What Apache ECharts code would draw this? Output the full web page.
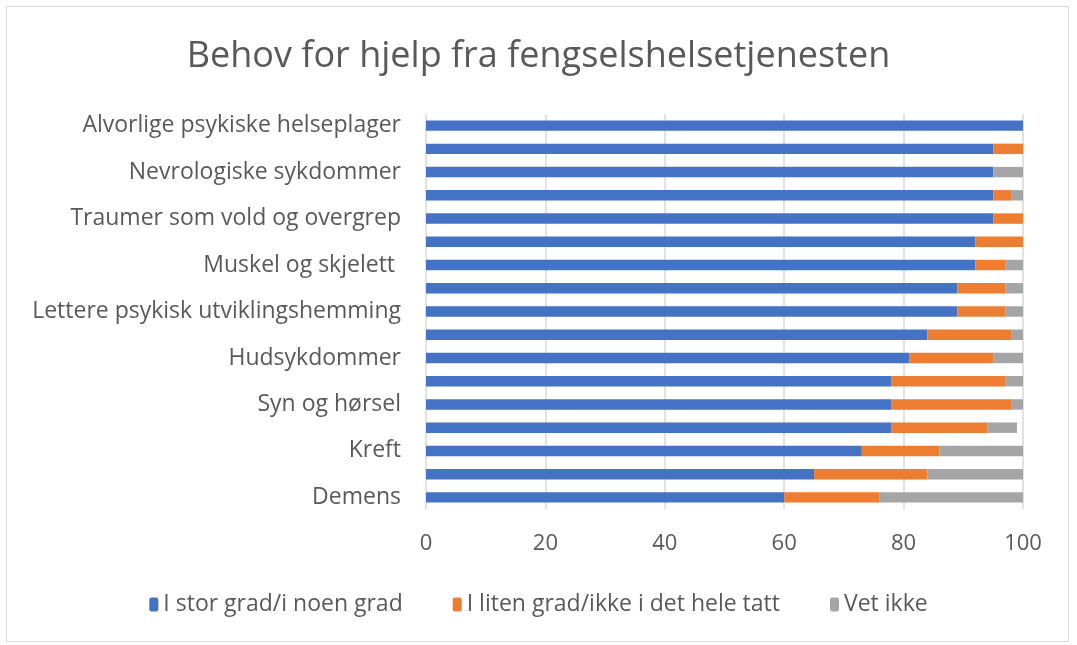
<!DOCTYPE html>
<html>
<head>
<meta charset="utf-8">
<script src="https://cdn.jsdelivr.net/npm/echarts@6/dist/echarts.min.js"></script>
<style>
html,body{margin:0;padding:0;background:#fff;}
#frame{position:absolute;left:6px;top:6px;width:1063px;height:636px;border:1.5px solid #d9d9d9;box-sizing:border-box;}
#chart{position:absolute;left:0;top:0;width:1077px;height:645px;}
</style>
</head>
<body>
<div id="frame"></div>
<div id="chart"></div>
<script>
const title = "Behov for hjelp fra fengselshelsetjenesten";
const categories = [
  "Alvorlige psykiske helseplager",
  "Kategori 2",
  "Nevrologiske sykdommer",
  "Kategori 4",
  "Traumer som vold og overgrep",
  "Kategori 6",
  "Muskel og skjelett ",
  "Kategori 8",
  "Lettere psykisk utviklingshemming",
  "Kategori 10",
  "Hudsykdommer",
  "Kategori 12",
  "Syn og hørsel",
  "Kategori 14",
  "Kreft",
  "Kategori 16",
  "Demens"
];
const seriesNames = ["I stor grad/i noen grad", "I liten grad/ikke i det hele tatt", "Vet ikke"];
const stor   = [100, 95, 95, 95, 95, 92, 92, 89, 89, 84, 81, 78, 78, 78, 73, 65, 60];
const liten  = [0, 5, 0, 3, 5, 8, 5, 8, 8, 14, 14, 19, 20, 16, 13, 19, 16];
const vetIkke= [0, 0, 5, 2, 0, 0, 3, 3, 3, 2, 5, 3, 2, 5, 14, 16, 24];
const xTicks = [0, 20, 40, 60, 80, 100];
const colors = ["#4472c4", "#ed7d31", "#a5a5a5"];

const font = "Open Sans";
const chart = echarts.init(document.getElementById('chart'));
const values = [stor, liten, vetIkke];
chart.setOption({
  animation: false,
  title: {
    text: title, left: 'center', top: 34,
    textStyle: {fontFamily: font, fontSize: 36, fontWeight: 'normal', color: '#595959'}
  },
  legend: {
    bottom: 24, left: 'center', itemGap: 50, itemWidth: 9, itemHeight: 14,
    textStyle: {fontFamily: font, fontSize: 23, color: '#595959'},
    data: seriesNames
  },
  grid: {left: 426, right: 54, top: 114, bottom: 136, containLabel: false},
  xAxis: {
    type: 'value', min: xTicks[0], max: xTicks[xTicks.length-1], interval: 20,
    axisLine: {show: false}, axisTick: {show: false},
    splitLine: {lineStyle: {color: '#d9d9d9', width: 1.5}},
    axisLabel: {fontFamily: font, fontSize: 22, color: '#595959', margin: 24}
  },
  yAxis: {
    type: 'category', inverse: true, data: categories,
    axisLine: {show: false}, axisTick: {show: false},
    axisLabel: {interval: 1, fontFamily: font, fontSize: 23, color: '#595959', margin: 25}
  },
  series: seriesNames.map((n, i) => ({
    name: n, type: 'bar', stack: 'total', data: values[i],
    barWidth: '45%', itemStyle: {color: colors[i]}
  }))
});
</script>
</body>
</html>
